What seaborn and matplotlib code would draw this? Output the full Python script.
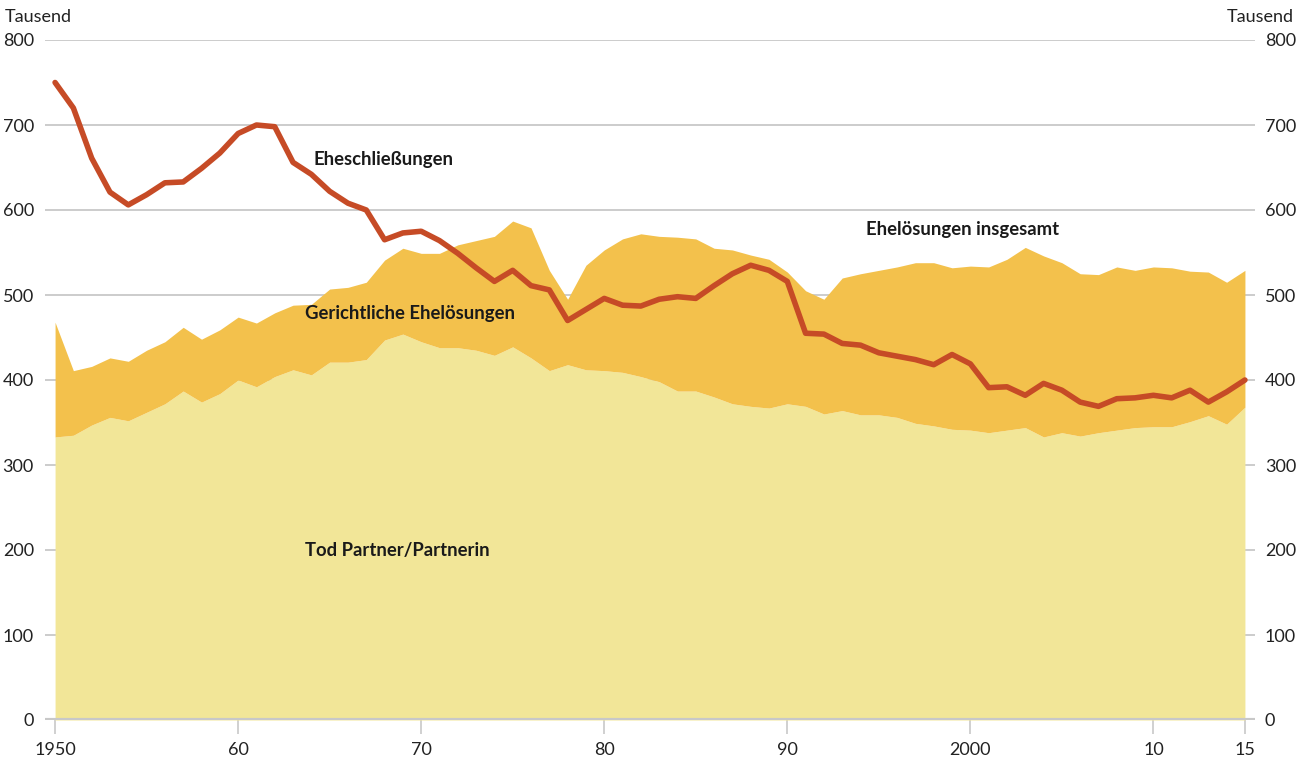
import numpy as np
import pandas as pd
import seaborn as sns
import matplotlib.pyplot as plt

# data (Tausend)
years = list(range(1950, 2016))

eheschliessungen = [750, 720, 661, 621, 606, 618, 632, 633, 649, 667,
                    690, 700, 698, 656, 642, 622, 608, 600, 565, 573,
                    575, 564, 549, 532, 516, 529, 511, 506, 470, 483,
                    496, 488, 487, 495, 498, 496, 511, 525, 535, 529,
                    516, 455, 454, 443, 441, 432, 428, 424, 418, 430,
                    419, 391, 392, 382, 396, 388, 374, 369, 378, 379,
                    382, 379, 388, 374, 386, 400]

ehelosungen_insgesamt = [468, 411, 416, 426, 422, 435, 445, 462, 448, 459,
                         474, 467, 479, 488, 489, 507, 509, 515, 541, 555,
                         549, 549, 559, 564, 569, 587, 579, 529, 495, 535,
                         553, 566, 572, 569, 568, 566, 555, 553, 547, 542,
                         527, 505, 495, 520, 525, 529, 533, 538, 538, 532,
                         534, 533, 542, 556, 546, 538, 525, 524, 533, 529,
                         533, 532, 528, 527, 515, 529]

tod_partner = [333, 335, 347, 356, 352, 362, 372, 387, 374, 384,
               400, 392, 404, 412, 406, 421, 421, 424, 447, 454,
               445, 438, 438, 435, 429, 439, 426, 411, 418, 412,
               411, 409, 404, 398, 387, 387, 380, 372, 369, 367,
               372, 369, 360, 364, 359, 359, 356, 349, 346, 342,
               341, 338, 341, 344, 333, 338, 334, 338, 341, 344,
               345, 345, 351, 358, 348, 368]

df = pd.DataFrame({"Jahr": years,
                   "Eheschließungen": eheschliessungen,
                   "Insgesamt": ehelosungen_insgesamt,
                   "Tod": tod_partner})

sns.set_theme(style="white")
plt.rcParams['font.family'] = ['Lato', 'DejaVu Sans']

fig = plt.figure(figsize=(13.12, 7.62), dpi=100)
ax = fig.add_axes([45/1312, 1 - 720/762, 1210/1312, 680/762])

grid_col = "#c8c8c8"
for v in range(100, 900, 100):
    ax.axhline(v, color=grid_col, lw=1.3, zorder=0)

ax.fill_between(df["Jahr"], 0, df["Tod"], color="#f2e698", lw=0, zorder=1)
ax.fill_between(df["Jahr"], df["Tod"], df["Insgesamt"], color="#f3c14c", lw=0, zorder=1)
sns.lineplot(data=df, x="Jahr", y="Eheschließungen", color="#c64b26", lw=4,
             ax=ax, zorder=3)

ax.set_xlim(1949.45, 2015.55)
ax.set_ylim(0, 800)
ax.axhline(0, color=grid_col, lw=3, zorder=4)

for s in ax.spines.values():
    s.set_visible(False)

xt = [1950, 1960, 1970, 1980, 1990, 2000, 2010, 2015]
xl = ["1950", "60", "70", "80", "90", "2000", "10", "15"]
ax.set_xticks(xt)
ax.set_xticklabels(xl)
ax.tick_params(axis="x", length=10, width=1.2, color=grid_col, pad=6,
               labelsize=13, labelcolor="#222222", bottom=True)
ax.set_yticks(range(0, 900, 100))
ax.tick_params(axis="y", length=0, pad=8, labelsize=13, labelcolor="#222222", left=True)
ax.set_xlabel("")
ax.set_ylabel("")

ax2 = ax.twinx()
ax2.set_ylim(0, 800)
ax2.set_yticks(range(0, 900, 100))
ax2.tick_params(axis="y", length=0, pad=7, labelsize=13, labelcolor="#222222")
for s in ax2.spines.values():
    s.set_visible(False)
ax2.grid(False)

fig.text(5/1312, 1 - 17/762, "Tausend", fontsize=13, color="#222222", va="center", ha="left")
fig.text(1294/1312, 1 - 17/762, "Tausend", fontsize=13, color="#222222", va="center", ha="right")

lab = dict(fontsize=13.3, fontweight="bold", color="#1a1a1a", va="center", ha="left", zorder=5)
ax.text(1964.1, 660, "Eheschließungen", **lab)
ax.text(1994.3, 577, "Ehelösungen insgesamt", **lab)
ax.text(1963.65, 478, "Gerichtliche Ehelösungen", **lab)
ax.text(1963.65, 199, "Tod Partner/Partnerin", **lab)

plt.savefig("out.png", dpi=100)
